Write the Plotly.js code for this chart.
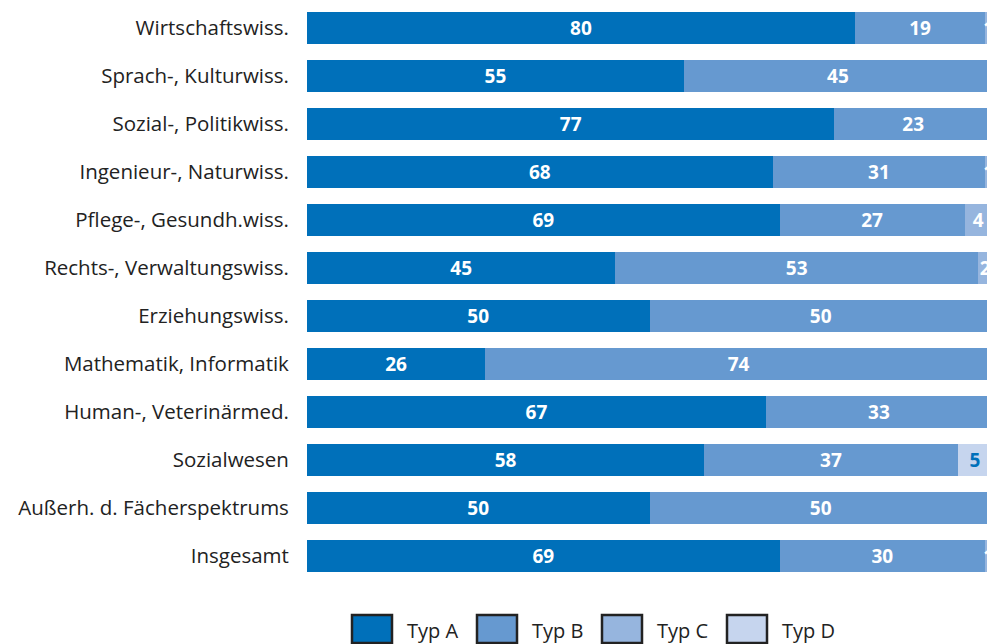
<!DOCTYPE html>
<html>
<head>
<meta charset="utf-8">
<script src="https://cdn.plot.ly/plotly-3.0.1.min.js"></script>
<style>
html,body{margin:0;padding:0;overflow:hidden;background:#fff;}
#chart{width:992px;height:644px;}
</style>
</head>
<body>
<div id="chart"></div>
<script>
const categories = [
  "Wirtschaftswiss.",
  "Sprach-, Kulturwiss.",
  "Sozial-, Politikwiss.",
  "Ingenieur-, Naturwiss.",
  "Pflege-, Gesundh.wiss.",
  "Rechts-, Verwaltungswiss.",
  "Erziehungswiss.",
  "Mathematik, Informatik",
  "Human-, Veterinärmed.",
  "Sozialwesen",
  "Außerh. d. Fächerspektrums",
  "Insgesamt"
];
const typA = [80, 55, 77, 68, 69, 45, 50, 26, 67, 58, 50, 69];
const typB = [19, 45, 23, 31, 27, 53, 50, 74, 33, 37, 50, 30];
const typC = [1, 0, 0, 1, 4, 2, 0, 0, 0, 0, 0, 1];
const typD = [0, 0, 0, 0, 0, 0, 0, 0, 0, 5, 0, 0];
const seriesNames = ["Typ A", "Typ B", "Typ C", "Typ D"];
const colors = ["#0070BA", "#6699D0", "#96B5DE", "#C6D5EE"];
const textColors = ["#ffffff", "#ffffff", "#ffffff", "#0070BA"];

const series = [typA, typB, typC, typD];
const traces = series.map((vals, i) => ({
  type: "bar",
  orientation: "h",
  name: seriesNames[i],
  y: categories,
  x: vals,
  marker: {color: colors[i], line: {width: 0}},
  text: vals.map(v => v > 0 ? String(v) : ""),
  textposition: "inside",
  insidetextanchor: "middle",
  constraintext: "none",
  textfont: {family: "Open Sans, sans-serif", size: 19, color: textColors[i], weight: "bold"},
  hoverinfo: "x+y+name",
  showlegend: false,
  cliponaxis: true
}));

// legend drawn as boxes + labels
const legX = [352, 477, 602, 727];
const W = 992, H = 644;
const shapes = [], annotations = [];
seriesNames.forEach((n, i) => {
  shapes.push({
    type: "rect", xref: "paper", yref: "paper",
    x0: (legX[i] - 307) / (W - 307), x1: (legX[i] + 40 - 307) / (W - 307),
    y0: -(615 - 580) / 576, y1: -(643 - 580) / 576,
    fillcolor: colors[i], line: {color: "#222", width: 2.5}
  });
  annotations.push({
    xref: "paper", yref: "paper",
    x: (legX[i] + 53 - 307) / (W - 307), y: -(630 - 580) / 576,
    xanchor: "left", yanchor: "middle", showarrow: false,
    text: n, font: {family: "Open Sans, sans-serif", size: 20, color: "#222"}
  });
});

const layout = {
  width: W, height: H,
  margin: {l: 307, r: 0, t: 4, b: 64, pad: 0},
  barmode: "stack",
  bargap: 0.33,
  paper_bgcolor: "#fff",
  plot_bgcolor: "#fff",
  xaxis: {range: [0, 100], showgrid: false, zeroline: false, showticklabels: false, ticks: "", fixedrange: true},
  yaxis: {
    autorange: "reversed",
    categoryorder: "array", categoryarray: categories,
    showgrid: false, zeroline: false, showline: false,
    ticks: "outside", ticklen: 13, tickcolor: "rgba(0,0,0,0)",
    tickfont: {family: "Open Sans, sans-serif", size: 20.5, color: "#222"}
  },
  shapes: shapes,
  annotations: annotations,
  showlegend: false
};

Plotly.newPlot("chart", traces, layout, {displayModeBar: false, staticPlot: true});
</script>
</body>
</html>
